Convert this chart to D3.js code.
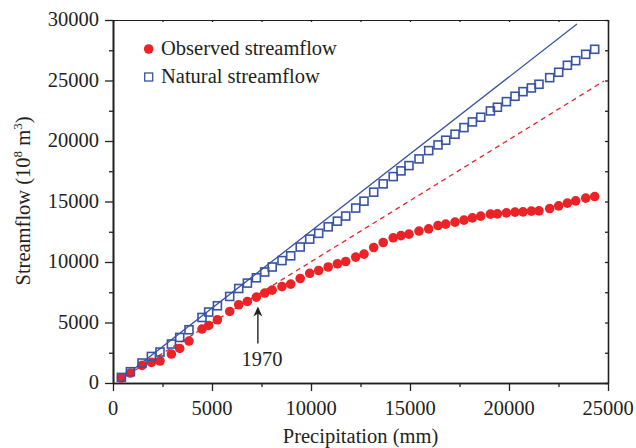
<!DOCTYPE html>
<html>
<head>
<meta charset="utf-8">
<script src="https://cdn.jsdelivr.net/npm/d3@7"></script>
<style>
  body { margin: 0; background: #fff; }
  text { font-family: "Liberation Serif", "Times New Roman", serif; fill: #231f20; }
</style>
</head>
<body>
<div id="chart"></div>
<script>
// cumulative precipitation (mm), one point per year 1956-2008
var precip = [424, 879, 1465, 1939, 2374, 2949, 3369, 3838, 4495, 4833,
  5273, 5894, 6349, 6788, 7242, 7662, 8040, 8535, 8975, 9455,
  9934, 10389, 10869, 11333, 11753, 12258, 12677, 13167, 13646, 14152,
  14545, 14949, 15455, 15944, 16414, 16803, 17273, 17727, 18152, 18571,
  19061, 19414, 19869, 20303, 20707, 21131, 21515, 22056, 22510, 22949,
  23369, 23874, 24328];

// cumulative observed streamflow (10^8 m3)
var observed = [413, 826, 1453, 1701, 1817, 2395, 2857, 3468, 4459, 4756,
  5227, 5912, 6466, 6738, 7101, 7432, 7679, 7968, 8175, 8637,
  9067, 9298, 9587, 9851, 10041, 10404, 10652, 11197, 11610, 11998,
  12180, 12303, 12559, 12741, 13013, 13129, 13294, 13459, 13649, 13790,
  13955, 13980, 14062, 14120, 14145, 14202, 14227, 14417, 14640, 14863,
  15053, 15276, 15408];

// cumulative natural streamflow (10^8 m3)
var natural = [462, 933, 1651, 2196, 2560, 3220, 3765, 4401, 5417, 5863,
  6383, 7151, 7811, 8257, 8695, 9174, 9587, 10115, 10512, 11238,
  11890, 12369, 12906, 13377, 13798, 14459, 15028, 15771, 16457, 17060,
  17530, 17968, 18521, 19206, 19677, 20065, 20561, 21106, 21576, 21964,
  22485, 22790, 23253, 23698, 24078, 24384, 24689, 25234, 25680, 26258,
  26638, 27166, 27579];

// end points of the two reference lines
var naturalTrend = [[290, 190], [23434, 29668]];
var observedTrend = [[340, 270], [24800, 24960]];

var xTicks = [0, 5000, 10000, 15000, 20000, 25000];
var xMinor = [2500, 7500, 12500, 17500, 22500];
var yTicks = [0, 5000, 10000, 15000, 20000, 25000, 30000];
var yMinor = [2500, 7500, 12500, 17500, 22500, 27500];

var legendLabels = ["Observed streamflow", "Natural streamflow"];
var arrowLabel = "1970";
var arrowIndex = 14;

var red = "#ec2227",
  blue = "#3852a6",
  fontSize = "20.5px";

var width = 636,
  height = 448;

var margin = { top: 20, right: 28, bottom: 65, left: 113 };

var svg = d3.select("#chart").append("svg")
  .attr("width", width)
  .attr("height", height);

var x = d3.scaleLinear().domain([0, 25000]).range([margin.left, width - margin.right]);
var y = d3.scaleLinear().domain([0, 30000]).range([height - margin.bottom, margin.top]);

// axes
function styleAxis(g, w) {
  g.select(".domain").attr("stroke", "#231f20").attr("stroke-width", w);
  g.selectAll(".tick line").attr("stroke", "#231f20").attr("stroke-width", 1.3);
  g.selectAll(".tick text").remove();
}

svg.append("g")
  .attr("transform", "translate(0," + y(0) + ")")
  .call(d3.axisBottom(x).tickValues(xMinor).tickSize(4).tickSizeOuter(0))
  .call(styleAxis, 1.6);
svg.append("g")
  .attr("transform", "translate(0," + y(0) + ")")
  .call(d3.axisBottom(x).tickValues(xTicks).tickSize(8).tickSizeOuter(0))
  .call(styleAxis, 1.6);

svg.append("g")
  .attr("transform", "translate(" + x(0) + ",0)")
  .call(d3.axisLeft(y).tickValues(yMinor).tickSize(4).tickSizeOuter(0))
  .call(styleAxis, 1.6);
svg.append("g")
  .attr("transform", "translate(" + x(0) + ",0)")
  .call(d3.axisLeft(y).tickValues(yTicks).tickSize(8).tickSizeOuter(0))
  .call(styleAxis, 1.6);

svg.append("g")
  .attr("transform", "translate(0," + y(30000) + ")")
  .call(d3.axisTop(x).tickValues(xTicks.concat(xMinor)).tickSize(-2).tickSizeOuter(0))
  .call(styleAxis, 1);

svg.append("g")
  .attr("transform", "translate(" + x(25000) + ",0)")
  .call(d3.axisRight(y).tickValues(yTicks.concat(yMinor)).tickSize(-3).tickSizeOuter(0))
  .call(styleAxis, 1.6);

// tick labels
svg.append("g").selectAll("text")
  .data(xTicks)
  .enter().append("text")
  .attr("x", function(d) { return x(d); })
  .attr("y", y(0) + 32)
  .attr("text-anchor", "middle")
  .style("font-size", fontSize)
  .text(function(d) { return d; });

svg.append("g").selectAll("text")
  .data(yTicks)
  .enter().append("text")
  .attr("x", x(0) - 14)
  .attr("y", function(d) { return y(d) + 6; })
  .attr("text-anchor", "end")
  .style("font-size", fontSize)
  .text(function(d) { return d; });

// axis titles
svg.append("text")
  .attr("x", (x(0) + x(25000)) / 2 + 0)
  .attr("y", 443)
  .attr("text-anchor", "middle")
  .style("font-size", fontSize)
  .text("Precipitation (mm)");

var yTitle = svg.append("text")
  .attr("transform", "translate(30," + 201 + ") rotate(-90)")
  .attr("text-anchor", "middle")
  .style("font-size", fontSize);
yTitle.append("tspan").text("Streamflow (10");
yTitle.append("tspan").attr("dy", -8).style("font-size", "13px").text("8");
yTitle.append("tspan").attr("dy", 8).text(" m");
yTitle.append("tspan").attr("dy", -8).style("font-size", "13px").text("3");
yTitle.append("tspan").attr("dy", 8).text(")");

// reference lines
var line = d3.line()
  .x(function(d) { return x(d[0]); })
  .y(function(d) { return y(d[1]); });

svg.append("path")
  .datum(observedTrend)
  .attr("fill", "none")
  .attr("stroke", red)
  .attr("stroke-width", 1.3)
  .attr("stroke-dasharray", "5,4")
  .attr("d", line);

svg.append("path")
  .datum(naturalTrend)
  .attr("fill", "none")
  .attr("stroke", blue)
  .attr("stroke-width", 1.3)
  .attr("d", line);

// observed points
svg.append("g").selectAll("circle")
  .data(precip)
  .enter().append("circle")
  .attr("cx", function(d) { return x(d); })
  .attr("cy", function(d, i) { return y(observed[i]); })
  .attr("r", 4.8)
  .attr("fill", red);

// natural points
var sq = 8;
svg.append("g").selectAll("rect")
  .data(precip)
  .enter().append("rect")
  .attr("x", function(d) { return x(d) - sq / 2; })
  .attr("y", function(d, i) { return y(natural[i]) - sq / 2; })
  .attr("width", sq)
  .attr("height", sq)
  .attr("fill", "none")
  .attr("stroke", blue)
  .attr("stroke-width", 1.6);

// 1970 arrow
var ax = x(precip[arrowIndex]) + 1.5,
  tipY = y(observed[arrowIndex]) + 9.5;
svg.append("line")
  .attr("x1", ax).attr("x2", ax)
  .attr("y1", tipY + 2).attr("y2", tipY + 37)
  .attr("stroke", "#231f20")
  .attr("stroke-width", 1.4);
svg.append("path")
  .attr("d", "M" + (ax - 4.5) + "," + (tipY + 10) + "L" + ax + "," + tipY + "L" + (ax + 4.5) + "," + (tipY + 10) + "L" + ax + "," + (tipY + 7) + "Z")
  .attr("fill", "#231f20");
svg.append("text")
  .attr("x", ax + 4)
  .attr("y", tipY + 59)
  .attr("text-anchor", "middle")
  .style("font-size", fontSize)
  .text(arrowLabel);

// legend
var legend = svg.append("g");
legend.append("circle")
  .attr("cx", 148.7).attr("cy", 49)
  .attr("r", 4.8)
  .attr("fill", red);
legend.append("rect")
  .attr("x", 148.7 - 4).attr("y", 77 - 4)
  .attr("width", 8).attr("height", 8)
  .attr("fill", "none")
  .attr("stroke", blue)
  .attr("stroke-width", 1.3);
legend.selectAll("text")
  .data(legendLabels)
  .enter().append("text")
  .attr("x", 161)
  .attr("y", function(d, i) { return 55 + i * 28; })
  .style("font-size", fontSize)
  .text(function(d) { return d; });
</script>
</body>
</html>
